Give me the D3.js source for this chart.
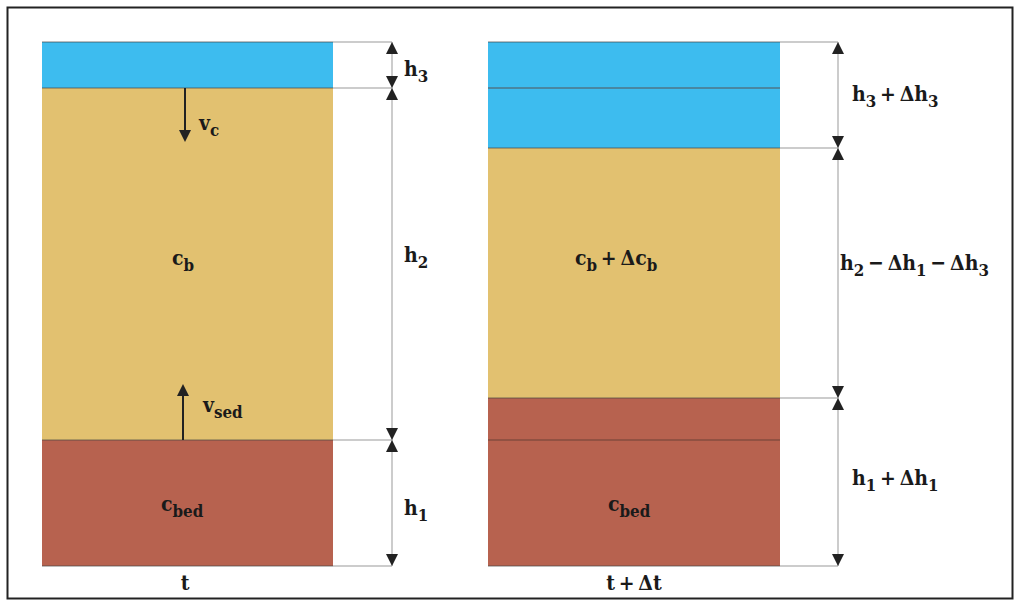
<!DOCTYPE html>
<html><head><meta charset="utf-8">
<script src="https://cdn.jsdelivr.net/npm/d3@7"></script>
<style>body{margin:0;background:#fff}svg text{font-family:'DejaVu Serif Condensed','DejaVu Serif',serif;font-stretch:condensed;font-weight:700;fill:#1a1a1a}</style>
</head><body><svg id="c" width="1021" height="607"></svg>
<script>
// Layer thicknesses (top to bottom): water, suspension, bed
const layersT  = [{name:"water", h:46},{name:"susp", h:352},{name:"bed", h:126}];
const layersT2 = [{name:"water", h:106},{name:"susp", h:250},{name:"bed", h:168}];
// internal boundary lines (old interfaces) in the t+Δt column, as depth from top
const innerLinesT2 = [46, 398];
const colors = {water:"#3dbcef", susp:"#e2c170", bed:"#b7624f"};

const svg = d3.select("#c");
svg.append("rect").attr("x",7.5).attr("y",7.5).attr("width",1005).attr("height",591)
  .attr("fill","none").attr("stroke","#222").attr("stroke-width",2);

const total = d3.sum(layersT, d=>d.h);
const y = d3.scaleLinear().domain([0,total]).range([42,566]);

function column(layers, x0, x1, dimX, inner){
  let acc = 0;
  const bounds=[0];
  layers.forEach(l=>{ l.y0=acc; acc+=l.h; l.y1=acc; bounds.push(acc); });
  const g = svg.append("g");
  g.selectAll("rect.l").data(layers).join("rect")
    .attr("x",x0).attr("width",x1-x0)
    .attr("y",d=>y(d.y0)).attr("height",d=>y(d.y1)-y(d.y0))
    .attr("fill",d=>colors[d.name]);
  g.selectAll("line.b").data(bounds).join("line")
    .attr("x1",x0).attr("x2",x1).attr("y1",d=>y(d)).attr("y2",d=>y(d))
    .attr("stroke","#444").attr("stroke-width",1).attr("opacity",0.7);
  g.selectAll("line.i").data(inner).join("line")
    .attr("x1",x0).attr("x2",x1).attr("y1",d=>y(d)).attr("y2",d=>y(d))
    .attr("stroke","#5a3a30").attr("stroke-width",1.2).attr("opacity",0.8);
  g.selectAll("line.e").data(bounds).join("line")
    .attr("x1",x1).attr("x2",dimX).attr("y1",d=>y(d)).attr("y2",d=>y(d))
    .attr("stroke","#999").attr("stroke-width",1);
  g.append("line").attr("x1",dimX).attr("x2",dimX).attr("y1",y(0)).attr("y2",y(total))
    .attr("stroke","#bbb").attr("stroke-width",1.5);
  layers.forEach(l=>{
    arrowHead(g, dimX, y(l.y0), -1);
    arrowHead(g, dimX, y(l.y1), 1);
  });
  return bounds;
}
function arrowHead(g, x, tipY, dir){ // dir -1 up, 1 down
  const w=6, len=12;
  g.append("path").attr("d",`M${x},${tipY} L${x-w},${tipY-dir*len} L${x+w},${tipY-dir*len} Z`)
    .attr("fill","#222");
}
column(layersT, 42, 333, 392, []);
column(layersT2, 488, 780, 838, innerLinesT2);

function label(x, yy, parts, size, anchor){
  const t = svg.append("text").attr("x",x).attr("y",yy).attr("font-size",size)
    .attr("text-anchor",anchor||"start");
  parts.forEach(p=>{
    if(p.sub){
      t.append("tspan").attr("dy",6).attr("font-size",size*0.8).text(p.t);
      t.append("tspan").attr("dy",-6).text("\u2009");
    } else t.append("tspan").text(p.t);
  });
  return t;
}
const FS = 21;
label(404, 76, [{t:"h"},{t:"3",sub:1}], FS);
label(404, 262, [{t:"h"},{t:"2",sub:1}], FS);
label(404, 515, [{t:"h"},{t:"1",sub:1}], FS);
label(852, 101, [{t:"h"},{t:"3",sub:1},{t:"+\u2009\u0394h"},{t:"3",sub:1}], FS);
label(840, 270, [{t:"h"},{t:"2",sub:1},{t:"\u2212\u2009\u0394h"},{t:"1",sub:1},{t:"\u2212\u2009\u0394h"},{t:"3",sub:1}], FS);
label(852, 485, [{t:"h"},{t:"1",sub:1},{t:"+\u2009\u0394h"},{t:"1",sub:1}], FS);
label(172, 265, [{t:"c"},{t:"b",sub:1}], FS);
label(575, 265, [{t:"c"},{t:"b",sub:1},{t:"+\u2009\u0394c"},{t:"b",sub:1}], FS);
label(161, 511, [{t:"c"},{t:"bed",sub:1}], FS);
label(608, 511, [{t:"c"},{t:"bed",sub:1}], FS);
label(185, 590, [{t:"t"}], FS, "middle");
label(634, 590, [{t:"t\u2009+\u2009\u0394t"}], FS, "middle");
svg.append("line").attr("x1",185).attr("x2",185).attr("y1",y(46)).attr("y2",130).attr("stroke","#222").attr("stroke-width",2);
arrowHead(svg,185,142,1);
label(199, 130, [{t:"v"},{t:"c",sub:1}], FS);
svg.append("line").attr("x1",183).attr("x2",183).attr("y1",y(398)).attr("y2",395).attr("stroke","#222").attr("stroke-width",2);
arrowHead(svg,183,384,-1);
label(203, 412, [{t:"v"},{t:"sed",sub:1}], FS);
</script></body></html>
